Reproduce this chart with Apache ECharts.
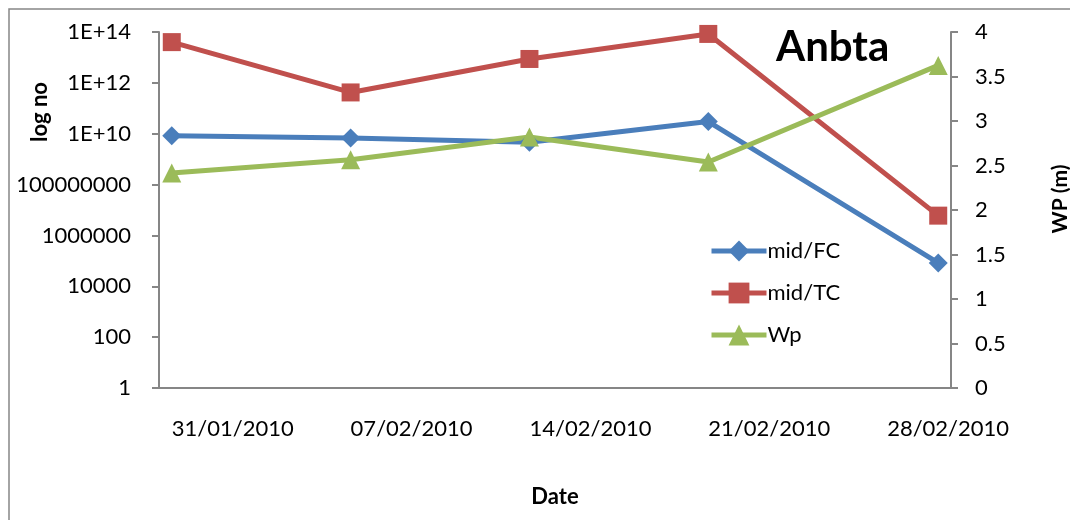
<!DOCTYPE html>
<html>
<head>
<meta charset="utf-8">
<script src="https://cdn.jsdelivr.net/npm/echarts@6/dist/echarts.min.js"></script>
<style>
  html, body { margin: 0; padding: 0; background: #fff; }
  #main { width: 1070px; height: 520px; }
</style>
</head>
<body>
<div id="main"></div>
<script>
var myChart = echarts.init(document.getElementById('main'));

// one category per day, 31/01/2010 .. 02/03/2010
var days = ['31/01/2010', '01/02/2010', '02/02/2010', '03/02/2010', '04/02/2010', '05/02/2010', '06/02/2010',
    '07/02/2010', '08/02/2010', '09/02/2010', '10/02/2010', '11/02/2010', '12/02/2010', '13/02/2010',
    '14/02/2010', '15/02/2010', '16/02/2010', '17/02/2010', '18/02/2010', '19/02/2010', '20/02/2010',
    '21/02/2010', '22/02/2010', '23/02/2010', '24/02/2010', '25/02/2010', '26/02/2010', '27/02/2010',
    '28/02/2010', '01/03/2010', '02/03/2010'];

// sampling dates
var sampleDates = ['31/01/2010', '07/02/2010', '14/02/2010', '21/02/2010', '02/03/2010'];

var midFC = [8.3e9, 6.8e9, 4.6e9, 3.0e10, 8.3e4];
var midTC = [4.0e13, 4.2e11, 8.7e12, 8.4e13, 6.0e6];
var wp = [2.415, 2.565, 2.82, 2.54, 3.625];

var logLabels = ['1', '100', '10000', '1000000', '100000000', '1E+10', '1E+12', '1E+14'];

// [category index, value]
function pairs(vals) {
    return vals.map(function (v, i) { return [days.indexOf(sampleDates[i]), v]; });
}

var font = 'Lato, "Open Sans", sans-serif';
var axisGrey = '#868686';

option = {
    animation: false,
    textStyle: { fontFamily: font },
    title: {
        text: 'Anbta',
        left: 771,
        top: 21,
        textStyle: { fontSize: 42, fontWeight: 'bold', color: '#000', fontFamily: font }
    },
    legend: {
        orient: 'vertical',
        left: 704,
        top: 235,
        itemWidth: 55,
        itemHeight: 26,
        itemGap: 20,
        lineStyle: { width: 5 },
        textStyle: { fontSize: 22, color: '#000', padding: [0, 0, 0, -4] },
        data: ['mid/FC', 'mid/TC', 'Wp']
    },
    grid: {
        left: 159,
        right: 119,
        top: 32,
        bottom: 132,
        outerBoundsMode: 'none'
    },
    xAxis: {
        type: 'category',
        data: days,
        boundaryGap: true,
        name: 'Date',
        nameLocation: 'middle',
        nameGap: 98,
        nameTextStyle: { fontSize: 22, fontWeight: 'bold', color: '#000' },
        axisLine: { lineStyle: { color: axisGrey, width: 2 } },
        axisTick: { interval: 6, length: 7, lineStyle: { color: axisGrey, width: 2 } },
        axisLabel: {
            interval: 6,
            align: 'left',
            margin: 30,
            fontSize: 22,
            color: '#000'
        },
        splitLine: { show: false }
    },
    yAxis: [{
        type: 'log',
        logBase: 10,
        min: 1,
        max: 1e14,
        interval: 2,
        axisLine: { show: true, lineStyle: { color: axisGrey, width: 2 } },
        axisTick: { show: true, length: 7, lineStyle: { color: axisGrey, width: 2 } },
        axisLabel: {
            fontSize: 22,
            color: '#000',
            margin: 28,
            formatter: function (v) {
                return logLabels[Math.round(Math.log10(v) / 2)];
            }
        },
        splitLine: { show: false },
        minorTick: { show: false }
    }, {
        type: 'value',
        min: 0,
        max: 4,
        interval: 0.5,
        position: 'right',
        axisLine: { show: true, lineStyle: { color: axisGrey, width: 2 } },
        axisTick: { show: true, length: 7, lineStyle: { color: axisGrey, width: 2 } },
        axisLabel: { fontSize: 22, color: '#000', margin: 24 },
        splitLine: { show: false }
    }],
    graphic: [{
        type: 'rect',
        shape: { x: 9, y: 9, width: 1080, height: 540 },
        style: { fill: 'none', stroke: axisGrey, lineWidth: 1.5 },
        silent: true
    }, {
        type: 'text',
        x: 40,
        y: 112,
        rotation: Math.PI / 2,
        style: {
            text: 'log no',
            fontSize: 22,
            fontWeight: 'bold',
            fontFamily: font,
            fill: '#000',
            align: 'center',
            verticalAlign: 'middle'
        }
    }, {
        type: 'text',
        x: 1060,
        y: 199,
        rotation: Math.PI / 2,
        style: {
            text: 'WP (m)',
            fontSize: 21,
            fontWeight: 'bold',
            fontFamily: font,
            fill: '#000',
            align: 'center',
            verticalAlign: 'middle'
        }
    }],
    series: [{
        name: 'mid/FC',
        type: 'line',
        yAxisIndex: 0,
        data: pairs(midFC),
        showAllSymbol: true,
        symbol: 'diamond',
        symbolSize: 19,
        color: '#4A7EBB',
        lineStyle: { width: 5, color: '#4A7EBB' },
        itemStyle: { color: '#4A7EBB' }
    }, {
        name: 'mid/TC',
        type: 'line',
        yAxisIndex: 0,
        data: pairs(midTC),
        showAllSymbol: true,
        symbol: 'rect',
        symbolSize: 18,
        color: '#C0504D',
        lineStyle: { width: 5, color: '#C0504D' },
        itemStyle: { color: '#C0504D' }
    }, {
        name: 'Wp',
        type: 'line',
        yAxisIndex: 1,
        data: pairs(wp),
        showAllSymbol: true,
        symbol: 'triangle',
        symbolSize: 19,
        color: '#9BBB59',
        lineStyle: { width: 5, color: '#9BBB59' },
        itemStyle: { color: '#9BBB59' }
    }]
};

myChart.setOption(option);
</script>
</body>
</html>
